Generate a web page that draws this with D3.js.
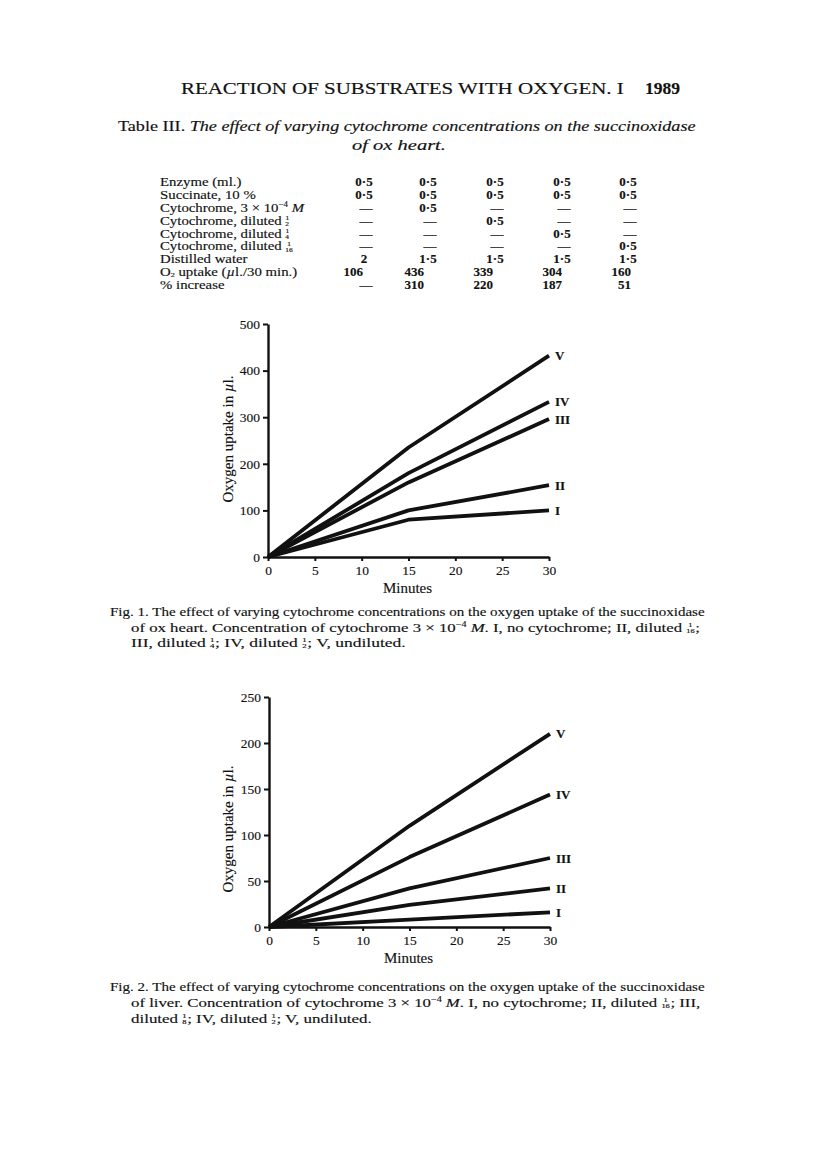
<!DOCTYPE html>
<html><head><meta charset="utf-8">
<script src="https://cdn.jsdelivr.net/npm/d3@7"></script>
<style>
body{margin:0;background:#fff}
svg{display:block}
text{font-family:"Liberation Serif","DejaVu Serif",serif;fill:#111;stroke:#111;stroke-width:0.15px}
</style>
</head><body>
<svg id="page" width="816" height="1167"></svg>
<script>
// ---------------- DATA ----------------
const minutes = [0, 15, 30];
const seriesNames = ["I", "II", "III", "IV", "V"];
// Fig. 1 ox heart (oxygen uptake, µl.)
const heartI   = [0, 80, 100];
const heartII  = [0, 100, 154];
const heartIII = [0, 160, 296];
const heartIV  = [0, 180, 333];
const heartV   = [0, 235, 432];
// Fig. 2 liver (oxygen uptake, µl.)
const liverI   = [0, 8, 16];
const liverII  = [0, 24, 42];
const liverIII = [0, 42, 75];
const liverIV  = [0, 76, 144];
const liverV   = [0, 110, 210];
// axis ticks
const xTicks = [0, 5, 10, 15, 20, 25, 30];
const yTicks1 = [0, 100, 200, 300, 400, 500];
const yTicks2 = [0, 50, 100, 150, 200, 250];
// Table III
const tableRowLabels = [
  "Enzyme (ml.)",
  "Succinate, 10 %",
  ["Cytochrome, 3 × 10", ["−4", "sup"], " ", ["M", "i"]],
  ["Cytochrome, diluted ", ["1/2", "frac"]],
  ["Cytochrome, diluted ", ["1/4", "frac"]],
  ["Cytochrome, diluted ", ["1/16", "frac"]],
  "Distilled water",
  ["O", ["2", "sub"], " uptake (", ["µ", "i"], "l./30 min.)"],
  "% increase"
];
const enzymeMl    = ["0·5", "0·5", "0·5", "0·5", "0·5"];
const succinate   = ["0·5", "0·5", "0·5", "0·5", "0·5"];
const cytoFull    = ["—", "0·5", "—", "—", "—"];
const cytoHalf    = ["—", "—", "0·5", "—", "—"];
const cytoQuarter = ["—", "—", "—", "0·5", "—"];
const cytoSixteen = ["—", "—", "—", "—", "0·5"];
const water       = ["2", "1·5", "1·5", "1·5", "1·5"];
const o2Uptake    = ["106", "436", "339", "304", "160"];
const pctIncrease = ["—", "310", "220", "187", "51"];
const tableRows = [enzymeMl, succinate, cytoFull, cytoHalf, cytoQuarter, cytoSixteen, water, o2Uptake, pctIncrease];

// ---------------- HELPERS ----------------
const svg = d3.select("#page");

function richText(parent, x, y, parts, size, opts = {}) {
  const t = parent.append("text").attr("font-size", size);
  if (opts.weight) t.attr("font-weight", opts.weight);
  let base = 0, pendingDx = 0;
  const list = Array.isArray(parts) ? parts : [parts];
  function span(str, extra) {
    const s = t.append("tspan").text(str);
    const target = extra.off || 0;
    if (target - base !== 0) s.attr("dy", target - base);
    base = target;
    const dx = (extra.dx || 0) + pendingDx;
    pendingDx = 0;
    if (dx) s.attr("dx", dx);
    if (extra.size) s.attr("font-size", extra.size);
    if (extra.italic) s.attr("font-style", "italic");
    if (extra.weight) s.attr("font-weight", extra.weight);
    return s;
  }
  list.forEach(p => {
    if (typeof p === "string") { span(p, {}); return; }
    const [str, kind] = p;
    if (kind === "i") span(str, {italic: true});
    else if (kind === "b") span(str, {weight: "bold"});
    else if (kind === "sup") span(str, {size: size * 0.6, off: -size * 0.36});
    else if (kind === "sub") span(str, {size: size * 0.55, off: size * 0.1});
    else if (kind === "frac") {
      const [n, d] = str.split("/");
      const fs = size * 0.5, cw = fs * 0.5;
      const nw = n.length * cw, dw = d.length * cw;
      const offN = Math.max(0, (dw - nw) / 2), offD = Math.max(0, (nw - dw) / 2);
      span(n, {size: fs, off: -size * 0.34, dx: offN});
      span(d, {size: fs, off: size * 0.1, dx: offD - (offN + nw)});
      pendingDx = Math.max(nw, dw) - (offD + dw) + 0.5;
    }
  });
  let tr = `translate(${x},${y})`;
  const sx = opts.scaleX || (opts.width ? opts.width / t.node().getBBox().width : 1);
  if (sx !== 1) tr += ` scale(${sx},1)`;
  t.attr("transform", tr);
  if (opts.anchor) t.attr("text-anchor", opts.anchor);
  return t;
}

// ---------------- HEADER ----------------
richText(svg, 181, 94, "REACTION OF SUBSTRATES WITH OXYGEN. I", 16.5, {width: 443});
richText(svg, 645, 94, "1989", 16, {width: 35, weight: "bold"});

// ---------------- TABLE ----------------
richText(svg, 118, 131, ["Table III.  ", ["The effect of varying cytochrome concentrations on the succinoxidase", "i"]], 14.5, {width: 579});
richText(svg, 352, 150, [["of ox heart.", "i"]], 14.5, {width: 94});

const rowY = d3.scaleLinear().domain([0, 8]).range([186, 289]);
const colCenter = [364, 428, 495, 562, 628];
const colRight = [363, 424, 493, 562, 631];
tableRowLabels.forEach((lab, i) => {
  richText(svg, 160, rowY(i), lab, 13, {scaleX: 1.14});
});
tableRows.forEach((row, i) => {
  row.forEach((v, j) => {
    const numeric = (i >= 7);
    const t = svg.append("text").attr("y", rowY(i)).attr("font-size", 13).text(v);
    if (numeric && v !== "—") {
      t.attr("x", colRight[j]).attr("text-anchor", "end").attr("font-weight", "bold");
    } else {
      t.attr("x", colCenter[j] + (v === "—" ? 2 : 0)).attr("text-anchor", "middle")
        .attr("font-weight", v === "—" ? "normal" : "bold");
    }
  });
});

// ---------------- CHARTS ----------------
function drawChart(cfg) {
  const g = svg.append("g");
  const x = d3.scaleLinear().domain([0, 30]).range([cfg.x0, cfg.x1]);
  const y = d3.scaleLinear().domain([0, cfg.yMax]).range([cfg.y0, cfg.y1]);
  const yAx = g.append("g").attr("transform", `translate(${cfg.x0},0)`)
    .call(d3.axisLeft(y).tickValues(cfg.yTicks).tickSize(5).tickSizeOuter(0).tickPadding(3));
  const xAx = g.append("g").attr("transform", `translate(0,${cfg.y0})`)
    .call(d3.axisBottom(x).tickValues(xTicks).tickSize(4).tickSizeOuter(0).tickPadding(4));
  [yAx, xAx].forEach(a => {
    a.select(".domain").attr("stroke", "#111").attr("stroke-width", 2.4);
    a.selectAll(".tick line").attr("stroke", "#111").attr("stroke-width", 2);
    a.selectAll(".tick text").attr("font-family", '"Liberation Serif",serif').attr("font-size", 13.5)
      .attr("fill", "#111").attr("stroke", "#111").attr("stroke-width", 0.25);
  });
  const line = d3.line().x((d, i) => x(minutes[i])).y(d => y(d));
  cfg.series.forEach((s, k) => {
    g.append("path").datum(s).attr("d", line).attr("fill", "none")
      .attr("stroke", "#111").attr("stroke-width", 3.8).attr("stroke-linejoin", "round").attr("stroke-linecap", "butt");
    g.append("text").attr("x", x(30) + 6).attr("y", y(s[s.length - 1]) + 4.5)
      .attr("font-size", 13).attr("font-weight", "bold").text(seriesNames[k]);
  });
  g.append("text").attr("x", (cfg.x0 + cfg.x1) / 2 - 1).attr("y", cfg.y0 + 36)
    .attr("text-anchor", "middle").attr("font-size", 15).text("Minutes");
  const yl = g.append("text").attr("text-anchor", "middle").attr("font-size", 15)
    .attr("transform", `translate(${cfg.yLabelX},${cfg.yLabelY}) rotate(-90)`);
  yl.append("tspan").text("Oxygen uptake in ");
  yl.append("tspan").attr("font-style", "italic").text("µ");
  yl.append("tspan").text("l.");
}

drawChart({x0: 268, x1: 549, y0: 557, y1: 324, yMax: 500, yTicks: yTicks1,
  series: [heartI, heartII, heartIII, heartIV, heartV], yLabelX: 233, yLabelY: 439});
drawChart({x0: 269, x1: 550, y0: 927, y1: 697, yMax: 250, yTicks: yTicks2,
  series: [liverI, liverII, liverIII, liverIV, liverV], yLabelX: 233, yLabelY: 829});

// ---------------- CAPTIONS ----------------
richText(svg, 110, 616, "Fig. 1.  The effect of varying cytochrome concentrations on the oxygen uptake of the succinoxidase", 13.5, {width: 595});
richText(svg, 131, 632, ["of ox heart.  Concentration of cytochrome 3 × 10", ["−4", "sup"], " ", ["M", "i"], ".  I, no cytochrome; II, diluted ", ["1/16", "frac"], ";"], 13.5, {width: 569});
richText(svg, 131, 647, ["III, diluted ", ["1/4", "frac"], "; IV, diluted ", ["1/2", "frac"], "; V, undiluted."], 13.5, {width: 275});

richText(svg, 110, 991, "Fig. 2.  The effect of varying cytochrome concentrations on the oxygen uptake of the succinoxidase", 13.5, {width: 595});
richText(svg, 131, 1007, ["of liver.  Concentration of cytochrome 3 × 10", ["−4", "sup"], " ", ["M", "i"], ".  I, no cytochrome; II, diluted ", ["1/16", "frac"], "; III,"], 13.5, {width: 569});
richText(svg, 131, 1023, ["diluted ", ["1/8", "frac"], "; IV, diluted ", ["1/2", "frac"], "; V, undiluted."], 13.5, {width: 241});
</script>
</body></html>
